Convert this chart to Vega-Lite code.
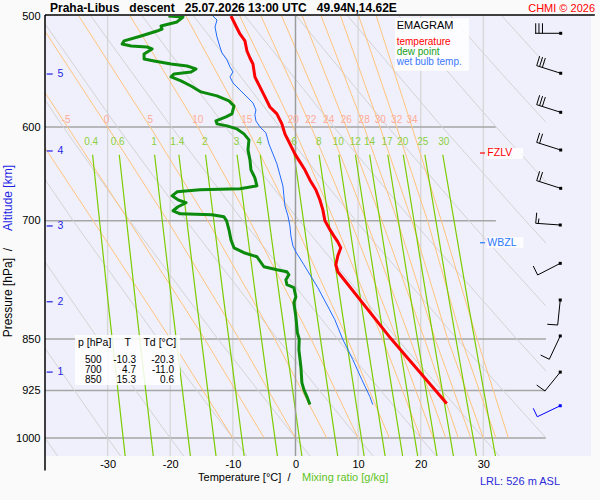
{
  "$schema": "https://vega.github.io/schema/vega-lite/v6.json",
  "description": "Emagram Praha-Libus descent 25.07.2026 13 UTC",
  "width": 546,
  "height": 440,
  "autosize": {"type": "none"},
  "padding": {"left": 45, "top": 16, "right": 9, "bottom": 44},
  "background": "#fafafa",
  "config": {
    "font": "Liberation Sans",
    "view": {"stroke": null, "fill": "#f0f0fc"}
  },
  "resolve": {"scale": {"color": "independent"}},
  "datasets": {
    "vgrid": [
      {"t": -30, "p": 500, "p2": 1030}, {"t": -20, "p": 500, "p2": 1030}, {"t": -10, "p": 500, "p2": 1030},
      {"t": 10, "p": 500, "p2": 1030}, {"t": 20, "p": 500, "p2": 1030}, {"t": 30, "p": 500, "p2": 1030}
    ],
    "zeroLine": [{"t": 0, "p": 500, "p2": 1030}],
    "hgrid": [
      {"p": 600, "t": -40, "t2": 32}, {"p": 700, "t": -40, "t2": 32}, {"p": 850, "t": -40, "t2": 40},
      {"p": 925, "t": -40, "t2": 40}, {"p": 1000, "t": -40, "t2": 40}
    ],
    "dry": [
      {"th": -40, "t": -50.58, "p": 850}, {"th": -40, "t": -40, "p": 1000}, {"th": -40, "t": -38.0, "p": 1030},
      {"th": -30, "t": -73.69, "p": 500}, {"th": -30, "t": -63.02, "p": 600}, {"th": -30, "t": -53.56, "p": 700}, {"th": -30, "t": -41.03, "p": 850}, {"th": -30, "t": -30, "p": 1000}, {"th": -30, "t": -27.94, "p": 1030},
      {"th": -20, "t": -65.48, "p": 500}, {"th": -20, "t": -54.37, "p": 600}, {"th": -20, "t": -44.53, "p": 700}, {"th": -20, "t": -31.49, "p": 850}, {"th": -20, "t": -20, "p": 1000}, {"th": -20, "t": -17.85, "p": 1030},
      {"th": -10, "t": -57.28, "p": 500}, {"th": -10, "t": -45.73, "p": 600}, {"th": -10, "t": -35.49, "p": 700}, {"th": -10, "t": -21.94, "p": 850}, {"th": -10, "t": -10, "p": 1000}, {"th": -10, "t": -7.77, "p": 1030},
      {"th": 0, "t": -49.07, "p": 500}, {"th": 0, "t": -37.09, "p": 600}, {"th": 0, "t": -26.46, "p": 700}, {"th": 0, "t": -12.39, "p": 850}, {"th": 0, "t": 0, "p": 1000}, {"th": 0, "t": 2.32, "p": 1030},
      {"th": 10, "t": -40.88, "p": 500}, {"th": 10, "t": -28.45, "p": 600}, {"th": 10, "t": -17.43, "p": 700}, {"th": 10, "t": -2.85, "p": 850}, {"th": 10, "t": 10, "p": 1000}, {"th": 10, "t": 12.4, "p": 1030},
      {"th": 20, "t": -32.67, "p": 500}, {"th": 20, "t": -19.81, "p": 600}, {"th": 20, "t": -8.4, "p": 700}, {"th": 20, "t": 6.7, "p": 850}, {"th": 20, "t": 20, "p": 1000}, {"th": 20, "t": 22.49, "p": 1030},
      {"th": 30, "t": -24.47, "p": 500}, {"th": 30, "t": -11.16, "p": 600}, {"th": 30, "t": 0.63, "p": 700}, {"th": 30, "t": 16.25, "p": 850}, {"th": 30, "t": 30, "p": 1000}, {"th": 30, "t": 32.57, "p": 1030},
      {"th": 40, "t": -16.26, "p": 500}, {"th": 40, "t": -2.52, "p": 600}, {"th": 40, "t": 9.66, "p": 700}, {"th": 40, "t": 25.79, "p": 850}, {"th": 40, "t": 40, "p": 1000},
      {"th": 50, "t": -8.06, "p": 500}, {"th": 50, "t": 6.12, "p": 600}, {"th": 50, "t": 18.69, "p": 700}, {"th": 50, "t": 35.34, "p": 850}, {"th": 50, "t": 40, "p": 895.8},
      {"th": 60, "t": 0.14, "p": 500}, {"th": 60, "t": 14.76, "p": 600}, {"th": 60, "t": 27.72, "p": 700}, {"th": 60, "t": 33.71, "p": 750}, {"th": 60, "t": 40, "p": 805.2},
      {"th": 70, "t": 8.35, "p": 500}, {"th": 70, "t": 23.41, "p": 600}, {"th": 70, "t": 36.75, "p": 700}, {"th": 70, "t": 40, "p": 726},
      {"th": 80, "t": 16.55, "p": 500}, {"th": 80, "t": 32.05, "p": 600}, {"th": 80, "t": 40, "p": 656.5},
      {"th": 90, "t": 24.75, "p": 500}, {"th": 90, "t": 32.98, "p": 550}, {"th": 90, "t": 40, "p": 595.4},
      {"th": 100, "t": 32.96, "p": 500}, {"th": 100, "t": 40, "p": 541.4}
    ],
    "moist": [
      {"thw": -10, "t": -53.7, "p": 500}, {"thw": -10, "t": -42.2, "p": 600}, {"thw": -10, "t": -32.3, "p": 700}, {"thw": -10, "t": -19.96, "p": 850}, {"thw": -10, "t": -10, "p": 1000},
      {"thw": -5, "t": -48.0, "p": 500}, {"thw": -5, "t": -36.4, "p": 600}, {"thw": -5, "t": -26.6, "p": 700}, {"thw": -5, "t": -14.5, "p": 850}, {"thw": -5, "t": -5, "p": 1000},
      {"thw": 0, "t": -41.6, "p": 500}, {"thw": 0, "t": -30.0, "p": 600}, {"thw": 0, "t": -20.4, "p": 700}, {"thw": 0, "t": -9.0, "p": 850}, {"thw": 0, "t": 0, "p": 1000},
      {"thw": 5, "t": -34.6, "p": 500}, {"thw": 5, "t": -23.2, "p": 600}, {"thw": 5, "t": -14.0, "p": 700}, {"thw": 5, "t": -3.3, "p": 850}, {"thw": 5, "t": 5, "p": 1000},
      {"thw": 10, "t": -26.4, "p": 500}, {"thw": 10, "t": -15.6, "p": 600}, {"thw": 10, "t": -7.3, "p": 700}, {"thw": 10, "t": 2.5, "p": 850}, {"thw": 10, "t": 10, "p": 1000},
      {"thw": 15, "t": -17.5, "p": 500}, {"thw": 15, "t": -7.85, "p": 600}, {"thw": 15, "t": -0.3, "p": 700}, {"thw": 15, "t": 8.3, "p": 850}, {"thw": 15, "t": 15, "p": 1000},
      {"thw": 20, "t": -8.9, "p": 500}, {"thw": 20, "t": -0.35, "p": 600}, {"thw": 20, "t": 6.2, "p": 700}, {"thw": 20, "t": 13.9, "p": 850}, {"thw": 20, "t": 20, "p": 1000},
      {"thw": 22, "t": -5.5, "p": 500}, {"thw": 22, "t": 2.5, "p": 600}, {"thw": 22, "t": 8.8, "p": 700}, {"thw": 22, "t": 16.2, "p": 850}, {"thw": 22, "t": 22, "p": 1000},
      {"thw": 24, "t": -2.2, "p": 500}, {"thw": 24, "t": 5.4, "p": 600}, {"thw": 24, "t": 11.3, "p": 700}, {"thw": 24, "t": 18.3, "p": 850}, {"thw": 24, "t": 24, "p": 1000},
      {"thw": 26, "t": 1.1, "p": 500}, {"thw": 26, "t": 8.1, "p": 600}, {"thw": 26, "t": 13.8, "p": 700}, {"thw": 26, "t": 20.6, "p": 850}, {"thw": 26, "t": 26, "p": 1000},
      {"thw": 28, "t": 4.1, "p": 500}, {"thw": 28, "t": 10.95, "p": 600}, {"thw": 28, "t": 16.3, "p": 700}, {"thw": 28, "t": 22.3, "p": 850}, {"thw": 28, "t": 28, "p": 1000},
      {"thw": 30, "t": 7.2, "p": 500}, {"thw": 30, "t": 13.5, "p": 600}, {"thw": 30, "t": 18.6, "p": 700}, {"thw": 30, "t": 24.3, "p": 850}, {"thw": 30, "t": 30, "p": 1000},
      {"thw": 32, "t": 10.1, "p": 500}, {"thw": 32, "t": 16.15, "p": 600}, {"thw": 32, "t": 21.1, "p": 700}, {"thw": 32, "t": 26.5, "p": 850}, {"thw": 32, "t": 32, "p": 1000},
      {"thw": 34, "t": 12.9, "p": 500}, {"thw": 34, "t": 18.6, "p": 600}, {"thw": 34, "t": 23.3, "p": 700}, {"thw": 34, "t": 29.0, "p": 850}, {"thw": 34, "t": 34, "p": 1000}
    ],
    "mix": [
      {"w": 0.4, "t": -32.4, "p": 628}, {"w": 0.4, "t": -29.92, "p": 800}, {"w": 0.4, "t": -27.2, "p": 1030},
      {"w": 0.6, "t": -28.14, "p": 628}, {"w": 0.6, "t": -25.54, "p": 800}, {"w": 0.6, "t": -22.71, "p": 1030},
      {"w": 1, "t": -22.5, "p": 628}, {"w": 1, "t": -19.76, "p": 800}, {"w": 1, "t": -16.78, "p": 1030},
      {"w": 1.4, "t": -18.62, "p": 628}, {"w": 1.4, "t": -15.78, "p": 800}, {"w": 1.4, "t": -12.69, "p": 1030},
      {"w": 2, "t": -14.36, "p": 628}, {"w": 2, "t": -11.41, "p": 800}, {"w": 2, "t": -8.2, "p": 1030},
      {"w": 3, "t": -9.33, "p": 628}, {"w": 3, "t": -6.24, "p": 800}, {"w": 3, "t": -2.89, "p": 1030},
      {"w": 4, "t": -5.62, "p": 628}, {"w": 4, "t": -2.44, "p": 800}, {"w": 4, "t": 1.02, "p": 1030},
      {"w": 6, "t": -0.21, "p": 628}, {"w": 6, "t": 3.12, "p": 800}, {"w": 6, "t": 6.74, "p": 1030},
      {"w": 8, "t": 3.77, "p": 628}, {"w": 8, "t": 7.21, "p": 800}, {"w": 8, "t": 10.96, "p": 1030},
      {"w": 10, "t": 6.93, "p": 628}, {"w": 10, "t": 10.46, "p": 800}, {"w": 10, "t": 14.31, "p": 1030},
      {"w": 12, "t": 9.57, "p": 628}, {"w": 12, "t": 13.18, "p": 800}, {"w": 12, "t": 17.11, "p": 1030},
      {"w": 14, "t": 11.84, "p": 628}, {"w": 14, "t": 15.51, "p": 800}, {"w": 14, "t": 19.51, "p": 1030},
      {"w": 17, "t": 14.74, "p": 628}, {"w": 17, "t": 18.5, "p": 800}, {"w": 17, "t": 22.59, "p": 1030},
      {"w": 20, "t": 17.21, "p": 628}, {"w": 20, "t": 21.04, "p": 800}, {"w": 20, "t": 25.22, "p": 1030},
      {"w": 25, "t": 20.66, "p": 628}, {"w": 25, "t": 24.59, "p": 800}, {"w": 25, "t": 28.88, "p": 1030},
      {"w": 30, "t": 23.52, "p": 628}, {"w": 30, "t": 27.54, "p": 800}, {"w": 30, "t": 31.93, "p": 1030}
    ],
    "moistLab": [
      {"t": -36.61, "p": 593.6, "label": "-5"}, {"t": -30.18, "p": 593.6, "label": "0"}, {"t": -23.19, "p": 593.6, "label": "5"},
      {"t": -15.6, "p": 593.6, "label": "10"}, {"t": -7.78, "p": 593.6, "label": "15"}, {"t": -0.35, "p": 593.6, "label": "20"},
      {"t": 2.44, "p": 593.6, "label": "22"}, {"t": 5.3, "p": 593.6, "label": "24"}, {"t": 8.11, "p": 593.6, "label": "26"},
      {"t": 10.97, "p": 593.6, "label": "28"}, {"t": 13.54, "p": 593.6, "label": "30"}, {"t": 16.16, "p": 593.6, "label": "32"},
      {"t": 18.6, "p": 593.6, "label": "34"}
    ],
    "mixLab": [
      {"t": -32.62, "p": 615.3, "label": "0.4"}, {"t": -28.39, "p": 615.3, "label": "0.6"}, {"t": -22.58, "p": 615.3, "label": "1"},
      {"t": -18.87, "p": 615.3, "label": "1.4"}, {"t": -14.48, "p": 615.3, "label": "2"}, {"t": -9.41, "p": 615.3, "label": "3"},
      {"t": -5.8, "p": 615.3, "label": "4"}, {"t": -0.21, "p": 615.3, "label": "6"}, {"t": 3.72, "p": 615.3, "label": "8"},
      {"t": 6.83, "p": 615.3, "label": "10"}, {"t": 9.55, "p": 615.3, "label": "12"}, {"t": 11.82, "p": 615.3, "label": "14"},
      {"t": 14.61, "p": 615.3, "label": "17"}, {"t": 17.13, "p": 615.3, "label": "20"}, {"t": 20.32, "p": 615.3, "label": "25"},
      {"t": 23.69, "p": 615.3, "label": "30"}
    ],
    "boxes": [
      {"box": "table", "t": -35.21, "t2": -18.44, "p": 844.4, "p2": 916.7},
      {"box": "legend", "t": 15.89, "t2": 27.7, "p": 501.9, "p2": 547.0},
      {"box": "FZLV", "t": 30.55, "t2": 36.35, "p": 621.1, "p2": 632.4},
      {"box": "WBZL", "t": 30.53, "t2": 36.38, "p": 719.2, "p2": 731.5}
    ],
    "tableHead": [
      {"t": -32.06, "p": 856.0, "text": "p [hPa]"},
      {"t": -26.79, "p": 856.0, "text": "T"},
      {"t": -21.66, "p": 856.0, "text": "Td [°C]"}
    ],
    "tableCols": [
      {"t": -30.95, "p": 883.4, "text": "500\n700\n850"},
      {"t": -25.47, "p": 883.4, "text": "-10.3\n4.7\n15.3"},
      {"t": -19.4, "p": 883.4, "text": "-20.3\n-11.0\n0.6"}
    ],
    "legendTitle": [{"t": 16.16, "p": 508.3, "text": "EMAGRAM"}],
    "legendItems": [
      {"t": 16.16, "p": 522.1, "text": "temperature", "series": "temperature"},
      {"t": 16.16, "p": 530.2, "text": "dew point", "series": "dew point"},
      {"t": 16.16, "p": 539.0, "text": "wet bulb temp.", "series": "wet bulb"}
    ],
    "levels": [
      {"lvl": "FZLV", "t": 29.46, "t2": 30.26, "tt": 30.63, "p": 626.2},
      {"lvl": "WBZL", "t": 29.46, "t2": 30.26, "tt": 30.63, "p": 725.6}
    ],
    "frame": [
      {"edge": "top", "t": -40, "t2": 47.8, "p": 499.2, "p2": 499.2},
      {"edge": "left", "t": -40, "t2": -40, "p": 499.2, "p2": 1055}
    ],
    "temp": [
      {"t": -10.3, "p": 500}, {"t": -9.51, "p": 508.3}, {"t": -8.87, "p": 515.0}, {"t": -8.07, "p": 520.9},
      {"t": -7.75, "p": 529.6}, {"t": -7.27, "p": 535.7}, {"t": -6.79, "p": 541.0}, {"t": -6.48, "p": 552.6},
      {"t": -5.68, "p": 561.8}, {"t": -4.88, "p": 571.1}, {"t": -4.08, "p": 580.6}, {"t": -2.97, "p": 587.2},
      {"t": -2.17, "p": 596.9}, {"t": -1.69, "p": 606.8}, {"t": -0.89, "p": 616.9}, {"t": -0.1, "p": 627.1},
      {"t": 0.7, "p": 635.4}, {"t": 1.5, "p": 643.7}, {"t": 2.3, "p": 654.5}, {"t": 3.25, "p": 665.2},
      {"t": 3.89, "p": 676.2}, {"t": 4.37, "p": 687.5}, {"t": 4.7, "p": 700}, {"t": 5.33, "p": 708.1},
      {"t": 6.12, "p": 717.5}, {"t": 6.76, "p": 724.6}, {"t": 7.24, "p": 731.7}, {"t": 6.76, "p": 741.4},
      {"t": 6.44, "p": 752.3}, {"t": 6.76, "p": 761.0}, {"t": 15.3, "p": 850}, {"t": 24.15, "p": 945.0}
    ],
    "dew": [
      {"t": -20.3, "p": 500}, {"t": -17.96, "p": 500.8}, {"t": -18.92, "p": 504.9}, {"t": -21.47, "p": 508.3},
      {"t": -21.31, "p": 510.8}, {"t": -22.11, "p": 512.5}, {"t": -24.66, "p": 516.7}, {"t": -27.37, "p": 520.9},
      {"t": -27.69, "p": 523.5}, {"t": -26.25, "p": 525.2}, {"t": -23.7, "p": 526.1}, {"t": -22.9, "p": 527.8},
      {"t": -24.18, "p": 532.2}, {"t": -24.18, "p": 536.6}, {"t": -22.58, "p": 538.3}, {"t": -19.87, "p": 541.0},
      {"t": -17.32, "p": 542.8}, {"t": -15.89, "p": 545.4}, {"t": -16.68, "p": 548.1}, {"t": -19.39, "p": 549.9},
      {"t": -19.87, "p": 552.6}, {"t": -18.28, "p": 556.3}, {"t": -16.68, "p": 560.9}, {"t": -15.09, "p": 566.4},
      {"t": -12.54, "p": 570.1}, {"t": -10.62, "p": 574.8}, {"t": -9.82, "p": 579.6}, {"t": -10.14, "p": 587.2},
      {"t": -11.1, "p": 590.1}, {"t": -12.7, "p": 594.0}, {"t": -12.54, "p": 596.9}, {"t": -10.94, "p": 598.9},
      {"t": -9.35, "p": 601.9}, {"t": -8.23, "p": 606.8}, {"t": -7.43, "p": 612.8}, {"t": -7.59, "p": 623.0},
      {"t": -7.27, "p": 633.3}, {"t": -7.11, "p": 643.7}, {"t": -6.48, "p": 652.2}, {"t": -6.16, "p": 660.9},
      {"t": -8.87, "p": 664.1}, {"t": -15.25, "p": 665.2}, {"t": -18.92, "p": 667.4}, {"t": -19.71, "p": 671.8},
      {"t": -18.76, "p": 676.2}, {"t": -17.48, "p": 679.5}, {"t": -18.76, "p": 684.0}, {"t": -19.55, "p": 688.5},
      {"t": -18.44, "p": 691.9}, {"t": -13.33, "p": 693.0}, {"t": -11.42, "p": 695.4}, {"t": -11.0, "p": 700},
      {"t": -10.62, "p": 710.4}, {"t": -10.3, "p": 722.2}, {"t": -9.82, "p": 731.7}, {"t": -8.23, "p": 737.6},
      {"t": -6.16, "p": 742.5}, {"t": -5.04, "p": 754.8}, {"t": -2.97, "p": 758.5}, {"t": -1.37, "p": 761.0},
      {"t": -1.05, "p": 764.8}, {"t": -1.53, "p": 771.1}, {"t": -1.37, "p": 777.4}, {"t": -0.26, "p": 781.2},
      {"t": 0.06, "p": 792.9}, {"t": -0.26, "p": 800.7}, {"t": 0.06, "p": 819.2}, {"t": 0.3, "p": 841.0},
      {"t": 0.6, "p": 850}, {"t": 0.54, "p": 864.8}, {"t": 0.86, "p": 889.3}, {"t": 1.02, "p": 913.0},
      {"t": 1.34, "p": 923.6}, {"t": 1.82, "p": 934.2}, {"t": 2.3, "p": 946.6}
    ],
    "wetbulb": [
      {"t": -13.17, "p": 500}, {"t": -12.54, "p": 503.3}, {"t": -12.85, "p": 509.1}, {"t": -12.54, "p": 517.5},
      {"t": -12.06, "p": 526.1}, {"t": -11.74, "p": 531.3}, {"t": -10.94, "p": 537.4}, {"t": -10.46, "p": 543.6},
      {"t": -9.98, "p": 548.1}, {"t": -10.46, "p": 552.6}, {"t": -9.98, "p": 558.1}, {"t": -8.87, "p": 564.6},
      {"t": -7.75, "p": 571.1}, {"t": -6.79, "p": 576.7}, {"t": -6.32, "p": 583.4}, {"t": -6.48, "p": 588.2},
      {"t": -6.32, "p": 594.0}, {"t": -5.68, "p": 599.9}, {"t": -4.72, "p": 605.8}, {"t": -4.24, "p": 616.9},
      {"t": -3.6, "p": 627.1}, {"t": -2.97, "p": 637.4}, {"t": -2.49, "p": 649.0}, {"t": -2.01, "p": 660.9},
      {"t": -1.85, "p": 671.8}, {"t": -1.69, "p": 683.0}, {"t": -1.21, "p": 694.2}, {"t": -0.89, "p": 705.8},
      {"t": -0.73, "p": 717.5}, {"t": -0.41, "p": 729.3}, {"t": 0.06, "p": 736.6}, {"t": 1.34, "p": 752.3},
      {"t": 3.57, "p": 781.2}, {"t": 6.28, "p": 823.3}, {"t": 7.56, "p": 850.7}, {"t": 9.15, "p": 879.1},
      {"t": 10.59, "p": 908.5}, {"t": 11.87, "p": 934.2}, {"t": 12.34, "p": 946.6}
    ],
    "alt": [
      {"km": "5", "t": -39.73, "t2": -38.77, "tt": -38.0, "p": 550.0},
      {"km": "4", "t": -39.73, "t2": -38.77, "tt": -38.0, "p": 624.1},
      {"km": "3", "t": -39.73, "t2": -38.77, "tt": -38.0, "p": 705.9},
      {"km": "2", "t": -39.73, "t2": -38.77, "tt": -38.0, "p": 799.5},
      {"km": "1", "t": -39.73, "t2": -38.77, "tt": -38.0, "p": 897.4}
    ],
    "barbs": [
      {"t": 42.35, "p": 514.4, "t2": 38.24, "p2": 514.4, "lev": "up"},
      {"t": 38.36, "p": 514.4, "t2": 38.36, "p2": 506.0, "lev": "up"},
      {"t": 38.88, "p": 514.4, "t2": 38.88, "p2": 506.0, "lev": "up"},
      {"t": 39.44, "p": 514.4, "t2": 39.44, "p2": 506.0, "lev": "up"},
      {"t": 42.35, "p": 549.3, "t2": 38.52, "p2": 542.5, "lev": "up"},
      {"t": 38.52, "p": 542.5, "t2": 38.99, "p2": 534.1, "lev": "up"},
      {"t": 38.98, "p": 543.3, "t2": 39.46, "p2": 534.9, "lev": "up"},
      {"t": 39.42, "p": 544.1, "t2": 39.9, "p2": 535.7, "lev": "up"},
      {"t": 42.35, "p": 585.7, "t2": 38.52, "p2": 578.4, "lev": "up"},
      {"t": 38.52, "p": 578.4, "t2": 38.99, "p2": 569.5, "lev": "up"},
      {"t": 38.98, "p": 579.3, "t2": 39.46, "p2": 570.3, "lev": "up"},
      {"t": 39.42, "p": 580.1, "t2": 39.9, "p2": 571.2, "lev": "up"},
      {"t": 42.35, "p": 623.1, "t2": 38.52, "p2": 615.4, "lev": "up"},
      {"t": 38.52, "p": 615.4, "t2": 38.99, "p2": 605.8, "lev": "up"},
      {"t": 38.98, "p": 616.3, "t2": 39.46, "p2": 606.7, "lev": "up"},
      {"t": 42.35, "p": 663.6, "t2": 38.52, "p2": 655.3, "lev": "up"},
      {"t": 38.52, "p": 655.3, "t2": 38.99, "p2": 645.2, "lev": "up"},
      {"t": 38.98, "p": 656.3, "t2": 39.46, "p2": 646.1, "lev": "up"},
      {"t": 42.28, "p": 704.8, "t2": 38.36, "p2": 702.8, "lev": "up"},
      {"t": 38.36, "p": 702.8, "t2": 38.52, "p2": 690.7, "lev": "up"},
      {"t": 38.77, "p": 702.6, "t2": 38.88, "p2": 697.3, "lev": "up"},
      {"t": 42.28, "p": 750.6, "t2": 38.67, "p2": 765.1, "lev": "up"},
      {"t": 38.67, "p": 765.1, "t2": 37.97, "p2": 753.9, "lev": "up"},
      {"t": 42.28, "p": 797.2, "t2": 41.87, "p2": 830.6, "lev": "up"},
      {"t": 41.87, "p": 830.6, "t2": 40.21, "p2": 829.6, "lev": "up"},
      {"t": 42.28, "p": 845.7, "t2": 40.53, "p2": 878.7, "lev": "up"},
      {"t": 40.53, "p": 878.7, "t2": 39.15, "p2": 872.6, "lev": "up"},
      {"t": 42.28, "p": 897.4, "t2": 39.84, "p2": 925.7, "lev": "up"},
      {"t": 39.84, "p": 925.7, "t2": 38.52, "p2": 916.7, "lev": "up"},
      {"t": 42.28, "p": 948.4, "t2": 38.61, "p2": 965.7, "lev": "sfc"},
      {"t": 38.61, "p": 965.7, "t2": 37.97, "p2": 952.4, "lev": "sfc"}
    ],
    "barbDots": [
      {"t": 42.35, "p": 514.4, "lev": "up"}, {"t": 42.35, "p": 549.3, "lev": "up"},
      {"t": 42.35, "p": 585.7, "lev": "up"}, {"t": 42.35, "p": 623.1, "lev": "up"},
      {"t": 42.35, "p": 663.6, "lev": "up"}, {"t": 42.28, "p": 704.8, "lev": "up"},
      {"t": 42.28, "p": 750.6, "lev": "up"}, {"t": 42.28, "p": 797.2, "lev": "up"},
      {"t": 42.28, "p": 845.7, "lev": "up"}, {"t": 42.28, "p": 897.4, "lev": "up"},
      {"t": 42.28, "p": 948.4, "lev": "sfc"}
    ]
  },
  "encoding": {
    "x": {
      "field": "t", "type": "quantitative",
      "scale": {"domain": [-40, 47.19], "nice": false, "zero": false},
      "axis": {
        "values": [-30, -20, -10, 0, 10, 20, 30], "labelExpr": "'' + datum.value",
        "domain": false, "ticks": false, "tickSize": 0, "grid": false,
        "labelPadding": 2, "labelFontSize": 11, "labelColor": "#000000", "title": null
      }
    },
    "y": {
      "field": "p", "type": "quantitative",
      "scale": {"type": "log", "domain": [500, 1030], "nice": false, "reverse": true},
      "axis": {
        "values": [500, 600, 700, 850, 925, 1000], "labelExpr": "'' + datum.value",
        "domain": false, "ticks": false, "tickSize": 0, "grid": false,
        "labelPadding": 5, "labelFontSize": 11, "labelColor": "#000000", "title": null
      }
    }
  },
  "layer": [
    {
      "data": {"name": "vgrid"},
      "mark": {"type": "rule", "color": "#d6d6d6", "strokeWidth": 1.3},
      "encoding": {"y2": {"field": "p2"}}
    },
    {
      "data": {"name": "hgrid"},
      "mark": {"type": "rule", "color": "#a6a6a6", "strokeWidth": 1.5},
      "encoding": {"x2": {"field": "t2"}}
    },
    {
      "data": {"name": "dry"},
      "mark": {"type": "line", "color": "#d3d3d3", "strokeWidth": 1, "clip": true},
      "encoding": {"detail": {"field": "th"}, "order": {"value": null}}
    },
    {
      "data": {"name": "moist"},
      "mark": {"type": "line", "color": "#ffc47e", "strokeWidth": 1, "clip": true},
      "encoding": {"detail": {"field": "thw"}, "order": {"value": null}}
    },
    {
      "data": {"name": "mix"},
      "mark": {"type": "line", "color": "#7ccc00", "strokeWidth": 1.2, "clip": true},
      "encoding": {"detail": {"field": "w"}, "order": {"value": null}}
    },
    {
      "data": {"name": "zeroLine"},
      "mark": {"type": "rule", "color": "#9c9c9c", "strokeWidth": 1.5},
      "encoding": {"y2": {"field": "p2"}}
    },
    {
      "data": {"name": "moistLab"},
      "mark": {"type": "text", "color": "#ffab96", "fontSize": 10, "baseline": "middle"},
      "encoding": {"text": {"field": "label"}}
    },
    {
      "data": {"name": "mixLab"},
      "mark": {"type": "text", "color": "#8ccf3c", "fontSize": 10, "baseline": "middle"},
      "encoding": {"text": {"field": "label"}}
    },
    {
      "data": {"name": "boxes"},
      "mark": {"type": "rect", "color": "#ffffff", "opacity": 0.85},
      "encoding": {"x2": {"field": "t2"}, "y2": {"field": "p2"}}
    },
    {
      "data": {"name": "tableHead"},
      "mark": {"type": "text", "fontSize": 10.5, "baseline": "middle", "color": "#000000"},
      "encoding": {"text": {"field": "text"}}
    },
    {
      "data": {"name": "tableCols"},
      "mark": {"type": "text", "fontSize": 10, "align": "right", "baseline": "alphabetic", "lineBreak": "\n", "lineHeight": 10, "color": "#000000"},
      "encoding": {"text": {"field": "text"}}
    },
    {
      "data": {"name": "legendTitle"},
      "mark": {"type": "text", "fontSize": 11, "align": "left", "baseline": "middle", "color": "#000000"},
      "encoding": {"text": {"field": "text"}}
    },
    {
      "data": {"name": "legendItems"},
      "mark": {"type": "text", "fontSize": 10, "align": "left", "baseline": "middle"},
      "encoding": {
        "text": {"field": "text"},
        "color": {"field": "series", "type": "nominal", "scale": {"domain": ["temperature", "dew point", "wet bulb"], "range": ["#ff0000", "#22a022", "#3a78ff"]}, "legend": null}
      }
    },
    {
      "data": {"name": "levels"},
      "mark": {"type": "rule", "strokeWidth": 1.2},
      "encoding": {
        "x2": {"field": "t2"},
        "color": {"field": "lvl", "type": "nominal", "scale": {"domain": ["FZLV", "WBZL"], "range": ["#ff0000", "#2a78ff"]}, "legend": null}
      }
    },
    {
      "data": {"name": "levels"},
      "mark": {"type": "text", "fontSize": 10.5, "align": "left", "baseline": "middle"},
      "encoding": {
        "x": {"field": "tt", "type": "quantitative"},
        "text": {"field": "lvl"},
        "color": {"field": "lvl", "type": "nominal", "scale": {"domain": ["FZLV", "WBZL"], "range": ["#ff0000", "#2a78ff"]}, "legend": null}
      }
    },
    {
      "data": {"name": "wetbulb"},
      "mark": {"type": "line", "color": "#1f6bff", "strokeWidth": 1, "clip": true},
      "encoding": {"order": {"value": null}}
    },
    {
      "data": {"name": "dew"},
      "mark": {"type": "line", "color": "#0b8a0b", "strokeWidth": 3, "strokeJoin": "round", "clip": true},
      "encoding": {"order": {"value": null}}
    },
    {
      "data": {"name": "temp"},
      "mark": {"type": "line", "color": "#ff0000", "strokeWidth": 3, "strokeJoin": "round", "clip": true},
      "encoding": {"order": {"value": null}}
    },
    {
      "data": {"name": "frame"},
      "mark": {"type": "rule", "color": "#000000", "strokeWidth": 1.5},
      "encoding": {"x2": {"field": "t2"}, "y2": {"field": "p2"}}
    },
    {
      "data": {"name": "barbs"},
      "mark": {"type": "rule", "strokeWidth": 1},
      "encoding": {
        "x2": {"field": "t2"}, "y2": {"field": "p2"},
        "color": {"field": "lev", "type": "nominal", "scale": {"domain": ["up", "sfc"], "range": ["#000000", "#0000ff"]}, "legend": null}
      }
    },
    {
      "data": {"name": "barbDots"},
      "mark": {"type": "square", "size": 9, "filled": true, "opacity": 1},
      "encoding": {
        "color": {"field": "lev", "type": "nominal", "scale": {"domain": ["up", "sfc"], "range": ["#000000", "#0000ff"]}, "legend": null}
      }
    },
    {
      "data": {"name": "alt"},
      "mark": {"type": "rule", "color": "#1f1fe6", "strokeWidth": 1.2},
      "encoding": {"x2": {"field": "t2"}}
    },
    {
      "data": {"name": "alt"},
      "mark": {"type": "text", "color": "#1f1fe6", "fontSize": 10.5, "align": "left", "baseline": "middle"},
      "encoding": {"x": {"field": "tt", "type": "quantitative"}, "text": {"field": "km"}}
    },
    {
      "data": {"values": [{"t": -40, "p": 500, "text": "Praha-Libus\u00a0\u00a0\u00a0descent\u00a0\u00a0\u00a025.07.2026 13:00 UTC\u00a0\u00a0\u00a049.94N,14.62E"}]},
      "mark": {"type": "text", "fontSize": 12, "fontWeight": "bold", "align": "left", "baseline": "alphabetic", "dx": 5, "dy": -4, "color": "#000000"},
      "encoding": {"text": {"field": "text"}}
    },
    {
      "data": {"values": [{"t": 47.19, "p": 500, "text": "CHMI © 2026"}]},
      "mark": {"type": "text", "fontSize": 11, "align": "right", "baseline": "alphabetic", "dx": 4, "dy": -4, "color": "#ff0000"},
      "encoding": {"text": {"field": "text"}}
    },
    {
      "data": {"values": [{"t": 0, "p": 1030, "text": "Temperature [°C]\u00a0\u00a0/"}]},
      "mark": {"type": "text", "fontSize": 11, "align": "right", "baseline": "middle", "dx": -5, "dy": 22, "color": "#000000"},
      "encoding": {"text": {"field": "text"}}
    },
    {
      "data": {"values": [{"t": 0, "p": 1030, "text": "Mixing ratio [g/kg]"}]},
      "mark": {"type": "text", "fontSize": 11, "align": "left", "baseline": "middle", "dx": 6.5, "dy": 22, "color": "#5ec41f"},
      "encoding": {"text": {"field": "text"}}
    },
    {
      "data": {"values": [{"t": 35.85, "p": 1030, "text": "LRL: 526 m ASL"}]},
      "mark": {"type": "text", "fontSize": 11, "align": "center", "baseline": "middle", "dy": 26, "color": "#2b2bd9"},
      "encoding": {"text": {"field": "text"}}
    },
    {
      "data": {"values": [{"t": -45.91, "p": 847.6, "text": "Pressure [hPa]\u00a0\u00a0/"}]},
      "mark": {"type": "text", "fontSize": 12, "angle": 270, "align": "left", "baseline": "middle", "color": "#000000"},
      "encoding": {"text": {"field": "text"}}
    },
    {
      "data": {"values": [{"t": -45.91, "p": 638.6, "text": "Altitude [km]"}]},
      "mark": {"type": "text", "fontSize": 12, "angle": 270, "align": "right", "baseline": "middle", "color": "#1f1fe6"},
      "encoding": {"text": {"field": "text"}}
    }
  ]
}
